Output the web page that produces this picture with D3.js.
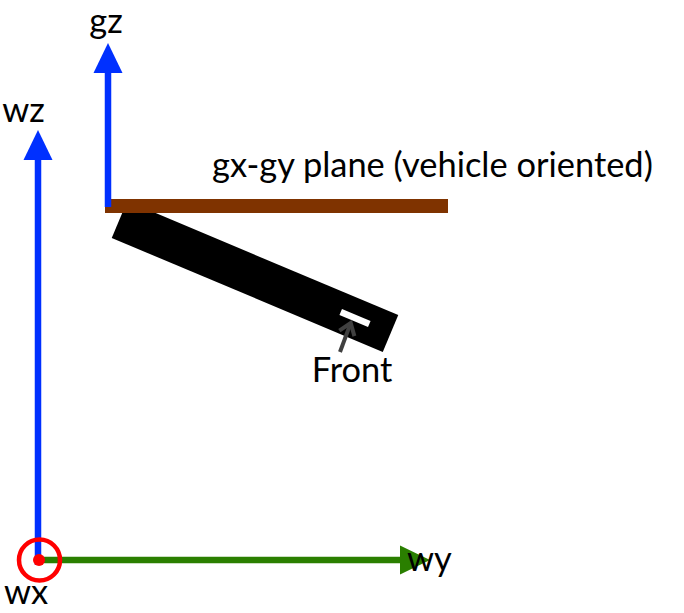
<!DOCTYPE html>
<html>
<head>
<meta charset="utf-8">
<script src="https://cdn.jsdelivr.net/npm/d3@7"></script>
<style>
  html, body { margin: 0; padding: 0; background: #fff; }
  svg { display: block; }
  text { font-family: Lato, "Open Sans", sans-serif; fill: #000; }
</style>
</head>
<body>
<script>
// diagram units: origin at the wx marker, y pointing up
const arrowNames = ["wz", "gz", "wy"]
const arrowFrom = [[0, -5], [70, 353], [0, 0]]
const arrowTo = [[0, 430], [70, 517], [392, 0]]
const arrowColors = ["#0030ff", "#0030ff", "#2a7f00"]

const planeX = [67, 410]
const planeY = [347, 361]

// vehicle body: center, length, width, tilt (deg, clockwise)
const bodyCenter = [217, 283.5]
const bodySize = [294, 40]
const bodyAngle = 22.8
const slotCenter = [317, 242]
const slotSize = [31, 6.5]
const pointerFrom = [302, 208]
const pointerTo = [312.7, 237]

const labels = ["gz", "wz", "gx-gy plane (vehicle oriented)", "Front", "wy", "wx"]
const labelPos = [[68, 527], [-14.5, 438], [174, 383], [314, 178], [369, -11], [-12, -44]]
const labelAnchor = ["middle", "middle", "start", "middle", "start", "middle"]

const W = 684, H = 613
const x = d3.scaleLinear().domain([0, 100]).range([38, 138])
const y = d3.scaleLinear().domain([0, 100]).range([560, 460])

const svg = d3.select('body')
    .append('svg')
    .attr('width', W)
    .attr('height', H)

// vehicle body
const body = svg.append('g')
    .attr('transform', `translate(${ x(bodyCenter[0]) }, ${ y(bodyCenter[1]) }) rotate(${ bodyAngle })`)
body.append('rect')
    .attr('x', -bodySize[0] / 2)
    .attr('y', -bodySize[1] / 2)
    .attr('width', bodySize[0])
    .attr('height', bodySize[1])
    .attr('fill', '#000')

svg.append('rect')
    .attr('transform', `translate(${ x(slotCenter[0]) }, ${ y(slotCenter[1]) }) rotate(${ bodyAngle })`)
    .attr('x', -slotSize[0] / 2)
    .attr('y', -slotSize[1] / 2)
    .attr('width', slotSize[0])
    .attr('height', slotSize[1])
    .attr('fill', '#fff')

// plane
svg.append('rect')
    .attr('x', x(planeX[0]))
    .attr('y', y(planeY[1]))
    .attr('width', x(planeX[1]) - x(planeX[0]))
    .attr('height', y(planeY[0]) - y(planeY[1]))
    .attr('fill', '#7f3300')

// arrows with filled triangular heads
const headLen = 30, headHalf = 14.5
arrowNames.forEach((name, i) => {
    const x0 = x(arrowFrom[i][0]), y0 = y(arrowFrom[i][1])
    const x1 = x(arrowTo[i][0]), y1 = y(arrowTo[i][1])
    const len = Math.hypot(x1 - x0, y1 - y0)
    const ux = (x1 - x0) / len, uy = (y1 - y0) / len
    const bx = x1 - ux * headLen, by = y1 - uy * headLen
    svg.append('line')
        .attr('x1', x0).attr('y1', y0)
        .attr('x2', bx).attr('y2', by)
        .attr('stroke', arrowColors[i])
        .attr('stroke-width', 6.5)
    svg.append('path')
        .attr('d', d3.line()([
            [x1, y1],
            [bx - uy * headHalf, by + ux * headHalf],
            [bx + uy * headHalf, by - ux * headHalf]
        ]) + 'Z')
        .attr('fill', arrowColors[i])
})

// wx axis (out of page)
svg.append('circle')
    .attr('cx', x(1.5)).attr('cy', y(0))
    .attr('r', 20.5)
    .attr('fill', 'none')
    .attr('stroke', '#ff0000')
    .attr('stroke-width', 4.5)
svg.append('circle')
    .attr('cx', x(1)).attr('cy', y(0))
    .attr('r', 6)
    .attr('fill', '#ff0000')

// front pointer
const px0 = x(pointerFrom[0]), py0 = y(pointerFrom[1])
const px1 = x(pointerTo[0]), py1 = y(pointerTo[1])
const pl = Math.hypot(px1 - px0, py1 - py0)
const pux = (px1 - px0) / pl, puy = (py1 - py0) / pl
svg.append('line')
    .attr('x1', px0).attr('y1', py0)
    .attr('x2', px1 - pux * 2).attr('y2', py1 - puy * 2)
    .attr('stroke', '#404040')
    .attr('stroke-width', 4)
svg.append('path')
    .attr('d', d3.line()([
        [px1 - pux * 11 - puy * 8, py1 - puy * 11 + pux * 8],
        [px1, py1],
        [px1 - pux * 11 + puy * 8, py1 - puy * 11 - pux * 8]
    ]))
    .attr('fill', 'none')
    .attr('stroke', '#404040')
    .attr('stroke-width', 4)

// labels, sized so the long caption spans its width
const texts = svg.selectAll('text.lbl')
    .data(labels)
    .join('text')
    .attr('class', 'lbl')
    .attr('x', (d, i) => x(labelPos[i][0]))
    .attr('y', (d, i) => y(labelPos[i][1]))
    .attr('text-anchor', (d, i) => labelAnchor[i])
    .attr('font-size', 28)
    .text(d => d)

const longW = texts.filter((d, i) => i === 2).node().getComputedTextLength()
const fs = 28 * 441 / longW
texts.attr('font-size', fs)
</script>
</body>
</html>
